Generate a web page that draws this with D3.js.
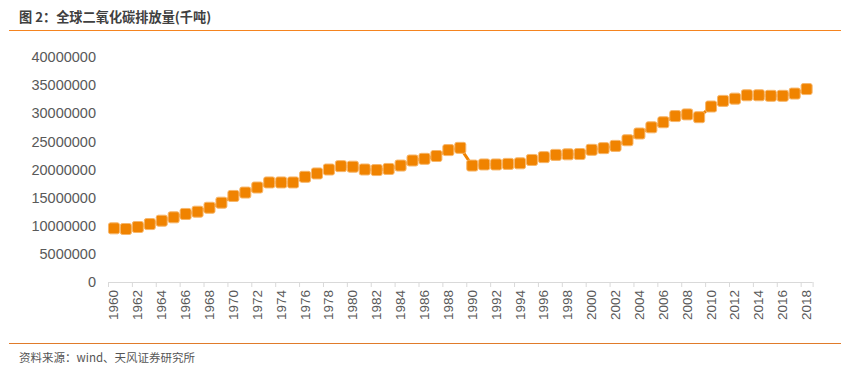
<!DOCTYPE html>
<html>
<head>
<meta charset="utf-8">
<script src="https://cdn.jsdelivr.net/npm/d3@7/dist/d3.min.js"></script>
<style>
html,body{margin:0;padding:0;background:#fff;}
svg{display:block;}
</style>
</head>
<body>
<svg id="chart" width="858" height="382"></svg>
<script>
const years = d3.range(1960, 2019);
const emissions = [
  9540000, 9420000, 9780000, 10300000, 10900000, 11500000, 12100000, 12500000, 13200000, 14100000,
  15300000, 15900000, 16800000, 17700000, 17700000, 17700000, 18700000, 19300000, 20000000, 20600000,
  20500000, 20000000, 19900000, 20100000, 20700000, 21600000, 21900000, 22400000, 23450000, 23850000,
  20700000, 20900000, 20900000, 21000000, 21100000, 21700000, 22200000, 22600000, 22700000, 22750000,
  23500000, 23800000, 24200000, 25200000, 26400000, 27500000, 28400000, 29500000, 29800000, 29300000,
  31200000, 32200000, 32600000, 33200000, 33200000, 33100000, 33100000, 33500000, 34300000
];
const yTicks = [0, 5000000, 10000000, 15000000, 20000000, 25000000, 30000000, 35000000, 40000000];
const xTickYears = years.filter(y => y % 2 === 0);
const titleText = "图 2：全球二氧化碳排放量(千吨)";
const sourceText = "资料来源：wind、天风证券研究所";

const svg = d3.select("#chart");
const orange = "#F08300";
const font = "'Liberation Sans', Arial, sans-serif";
const cjk = "'Noto Sans CJK SC', 'Liberation Sans', sans-serif";

// header
svg.append("text").attr("x", 19).attr("y", 22).attr("font-family", cjk)
  .attr("font-size", 13.2).attr("font-weight", "bold").attr("fill", "#404040").text(titleText);
svg.append("line").attr("x1", 9).attr("x2", 841).attr("y1", 30.5).attr("y2", 30.5)
  .attr("stroke", "#F5841F").attr("stroke-width", 1.2);
svg.append("line").attr("x1", 9).attr("x2", 841).attr("y1", 343.5).attr("y2", 343.5)
  .attr("stroke", "#E07B2A").attr("stroke-width", 1.2);
svg.append("text").attr("x", 19).attr("y", 362).attr("font-family", cjk)
  .attr("font-size", 11.5).attr("fill", "#555").text(sourceText);

const x = d3.scaleBand().domain(years).range([108, 812.6]).padding(0);
const y = d3.scaleLinear().domain([0, 40000000]).range([282, 57]);

// y axis labels
const ya = svg.append("g").attr("transform", "translate(96,0)")
  .call(d3.axisLeft(y).tickValues(yTicks).tickSize(0).tickPadding(0).tickFormat(d3.format("d")));
ya.select(".domain").remove();
ya.selectAll("text").attr("font-family", font).attr("font-size", 14.5).attr("fill", "#595959");

// x axis
const xa = svg.append("g").attr("transform", "translate(0,282)");
xa.append("line").attr("x1", x.range()[0]).attr("x2", x.range()[1]).attr("y1", 0.5).attr("y2", 0.5)
  .attr("stroke", "#d9d9d9").attr("stroke-width", 1);
xa.selectAll(".tk").data(xTickYears.concat([2019])).join("line")
  .attr("x1", d => (d === 2019 ? x.range()[1] : x(d)) + 0.5)
  .attr("x2", d => (d === 2019 ? x.range()[1] : x(d)) + 0.5)
  .attr("y1", 0).attr("y2", 5).attr("stroke", "#d9d9d9");
xa.selectAll(".lb").data(xTickYears).join("text")
  .attr("transform", d => `translate(${x(d) + x.bandwidth() / 2 + 4.5},8) rotate(-90)`)
  .attr("text-anchor", "end").attr("font-family", font).attr("font-size", 13.5)
  .attr("fill", "#595959").text(d => d);

// line
const line = d3.line().x((d, i) => x(years[i]) + x.bandwidth() / 2).y(d => y(d));
svg.append("path").datum(emissions).attr("d", line).attr("fill", "none")
  .attr("stroke", orange).attr("stroke-width", 3);

// markers
const ms = 11;
svg.selectAll(".m").data(emissions).join("rect")
  .attr("x", (d, i) => x(years[i]) + x.bandwidth() / 2 - ms / 2)
  .attr("y", d => y(d) - ms / 2)
  .attr("width", ms).attr("height", ms).attr("rx", 2)
  .attr("fill", orange).attr("stroke", "#F7B66A").attr("stroke-width", 1);
</script>
</body>
</html>
